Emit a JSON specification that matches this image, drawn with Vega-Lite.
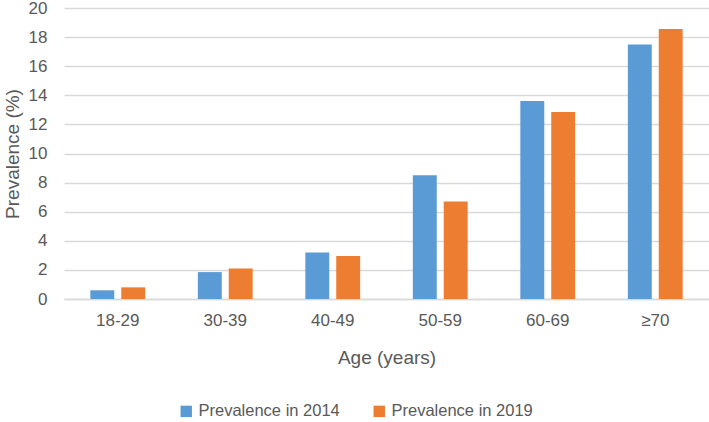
{
  "$schema": "https://vega.github.io/schema/vega-lite/v6.json",
  "autosize": "none",
  "width": 645,
  "height": 291,
  "padding": {"left": 64, "top": 8, "right": 0, "bottom": 123},
  "background": "white",
  "config": {
    "font": "Liberation Sans",
    "view": {"stroke": null}
  },
  "data": {
    "values": [
      {"age": "18-29", "series": "Prevalence in 2014", "value": 0.6},
      {"age": "18-29", "series": "Prevalence in 2019", "value": 0.8},
      {"age": "30-39", "series": "Prevalence in 2014", "value": 1.85},
      {"age": "30-39", "series": "Prevalence in 2019", "value": 2.1},
      {"age": "40-49", "series": "Prevalence in 2014", "value": 3.2},
      {"age": "40-49", "series": "Prevalence in 2019", "value": 2.95},
      {"age": "50-59", "series": "Prevalence in 2014", "value": 8.5},
      {"age": "50-59", "series": "Prevalence in 2019", "value": 6.7},
      {"age": "60-69", "series": "Prevalence in 2014", "value": 13.6},
      {"age": "60-69", "series": "Prevalence in 2019", "value": 12.85},
      {"age": "≥70", "series": "Prevalence in 2014", "value": 17.5},
      {"age": "≥70", "series": "Prevalence in 2019", "value": 18.56}
    ]
  },
  "mark": {"type": "bar"},
  "encoding": {
    "x": {
      "field": "age",
      "type": "nominal",
      "sort": null,
      "scale": {"paddingInner": 0.49, "paddingOuter": 0.245},
      "axis": {
        "title": "Age (years)",
        "labelAngle": 0,
        "labelFontSize": 17,
        "labelColor": "#595959",
        "labelPadding": 13,
        "ticks": false,
        "tickSize": 0,
        "domainColor": "#D9D9D9",
        "domainWidth": 1.5,
        "titleFontSize": 19,
        "titleFontWeight": "normal",
        "titleColor": "#595959",
        "titlePadding": 20
      }
    },
    "xOffset": {
      "field": "series",
      "type": "nominal",
      "scale": {"paddingInner": 0.226, "paddingOuter": 0}
    },
    "y": {
      "field": "value",
      "type": "quantitative",
      "scale": {"domain": [0, 20], "nice": false},
      "axis": {
        "title": "Prevalence (%)",
        "values": [0, 2, 4, 6, 8, 10, 12, 14, 16, 18, 20],
        "domain": false,
        "ticks": false,
        "tickSize": 0,
        "labelPadding": 17,
        "labelFontSize": 17,
        "labelColor": "#595959",
        "gridColor": "#D9D9D9",
        "gridWidth": 1.5,
        "titleFontSize": 19,
        "titleFontWeight": "normal",
        "titleColor": "#595959",
        "titlePadding": 6
      }
    },
    "color": {
      "field": "series",
      "type": "nominal",
      "scale": {"range": ["#5B9BD5", "#ED7D31"]},
      "legend": {
        "title": null,
        "orient": "none",
        "direction": "horizontal",
        "columns": 2,
        "legendX": 114,
        "legendY": 395,
        "padding": 0,
        "symbolType": "square",
        "symbolSize": 130,
        "symbolStrokeWidth": 0,
        "labelFontSize": 16.5,
        "labelColor": "#595959",
        "labelOffset": 4,
        "columnPadding": 31
      }
    }
  }
}
